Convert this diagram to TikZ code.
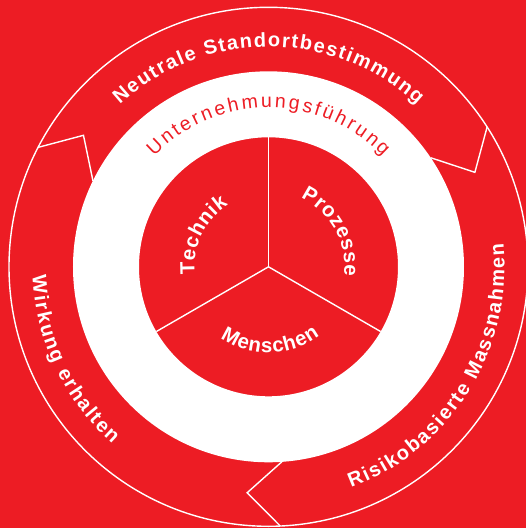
\documentclass[tikz,border=0pt]{standalone}
\usepackage{fontspec}
\setmainfont{Liberation Sans}
\usepackage{xcolor}
\usetikzlibrary{decorations.text}

\definecolor{signalred}{RGB}{237,28,36}

\newcommand\bandfont{\bfseries\fontsize{20}{20}\selectfont}
\newcommand\ringfont{\fontsize{19.5}{19.5}\selectfont}
\newcommand\sectorfont{\bfseries\fontsize{20.5}{20.5}\selectfont}

\begin{document}
\begin{tikzpicture}[
  x=1pt, y=1pt,
  outline/.style={draw=white, line width=1.4pt},
  arclabel/.style 2 args={decorate, decoration={text along path, text color=#1, text={#2}, text align={fit to path}}}
]
% red ground, also the page frame
\fill[signalred] (-268.5,-261.2) rectangle (257.5,266.8);
\useasboundingbox (-268.5,-261.2) rectangle (257.5,266.8);

% white ring round the three sectors
\fill[white, even odd rule] (0,0) circle[radius=195.5] (0,0) circle[radius=129.5];
\foreach \a in {90,210,330}
  \draw[outline] (0,0) -- (\a:129.5);

% outer cycle with the three arrow joints
\draw[outline] (0,0) circle[radius=259.5];
\foreach \a in {32.6,152.6,272.6}
  \draw[outline, line join=miter] (\a:259.5) -- ({\a-8}:227) -- ({\a+1.3}:195.5);

% cycle steps
\path[arclabel={white}{|\bandfont|Neutrale Standortbestimmung}]
  (132.5:220) arc[start angle=132.5, end angle=47.5, radius=220];
\path[arclabel={white}{|\bandfont|Risikobasierte Massnahmen}]
  (-69.5:236) arc[start angle=-69.5, end angle=5.7, radius=236];
\path[arclabel={white}{|\bandfont|Wirkung erhalten}]
  (182.2:236) arc[start angle=182.2, end angle=228.6, radius=236];

% ring and sectors
\path[arclabel={signalred}{|\ringfont|Unternehmungsführung}]
  (136:159) arc[start angle=136, end angle=44, radius=159];
\path[arclabel={white}{|\sectorfont|Technik}]
  (186:74) arc[start angle=186, end angle=123, radius=74];
\path[arclabel={white}{|\sectorfont|Prozesse}]
  (65:76) arc[start angle=65, end angle=-7, radius=76];
\path[arclabel={white}{|\sectorfont|Menschen}]
  (236:86) arc[start angle=236, end angle=306.5, radius=86];
\end{tikzpicture}
\end{document}
